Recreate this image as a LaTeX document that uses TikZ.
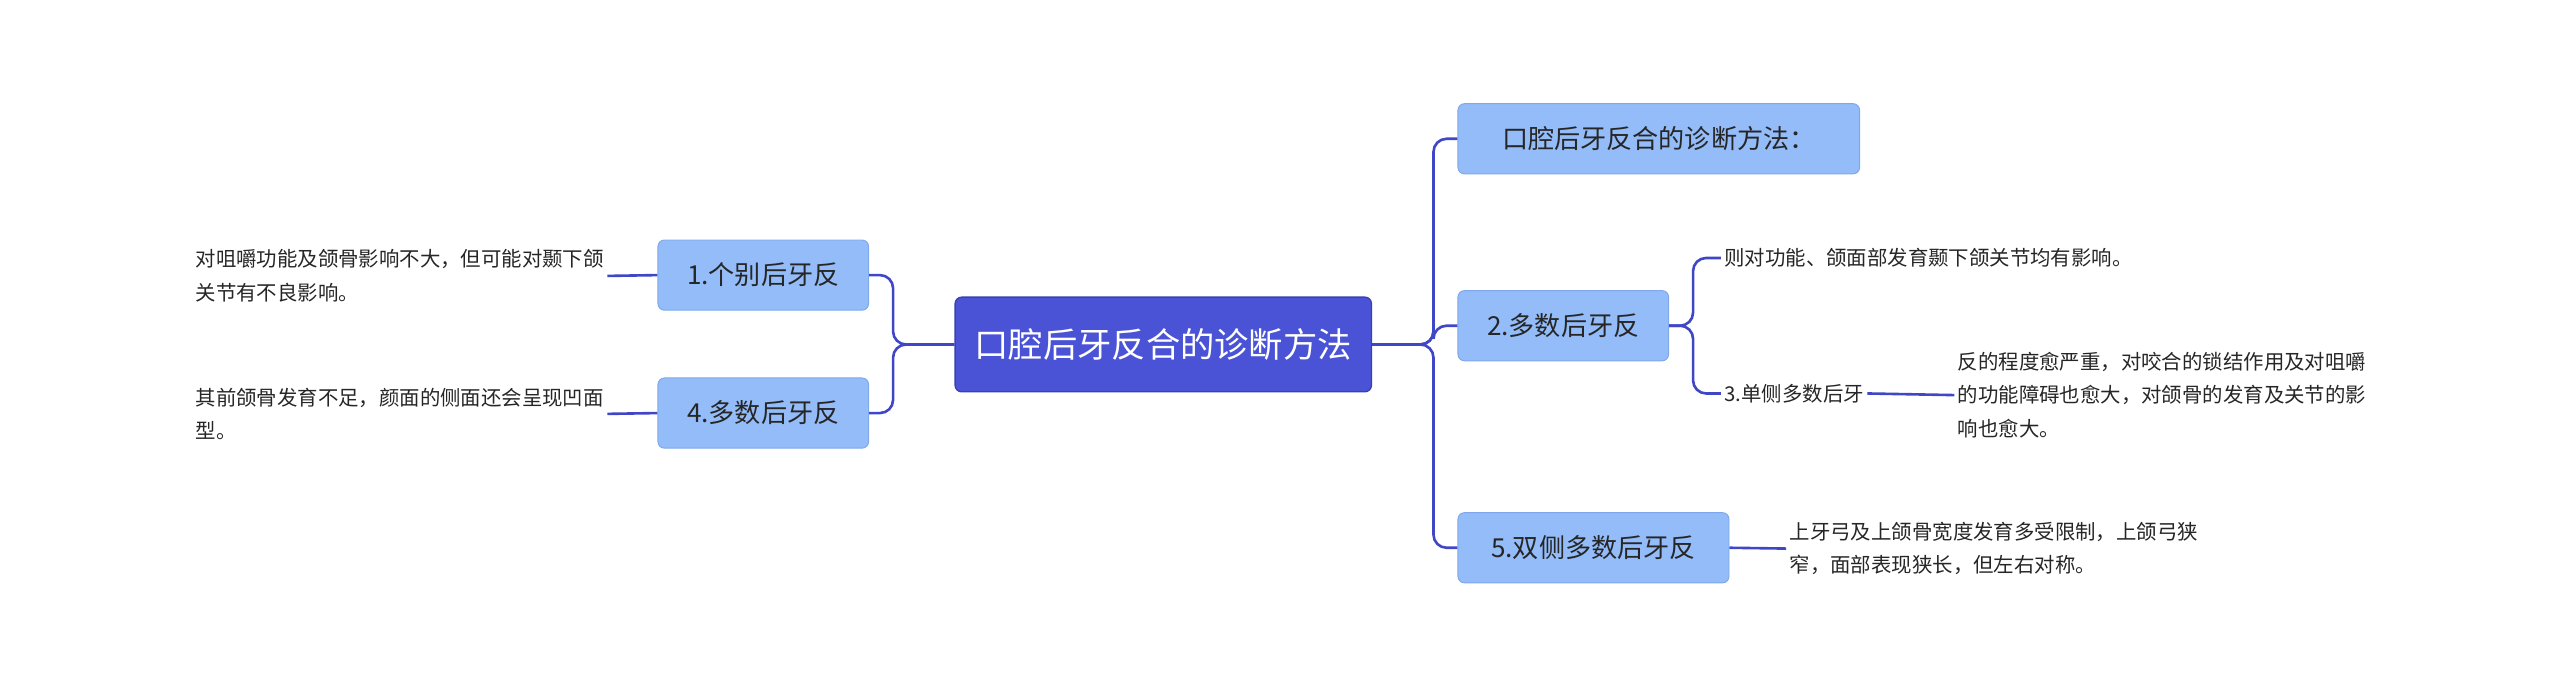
\documentclass[tikz,border=0pt]{standalone}
\usepackage{fontspec}
\setmainfont{Noto Sans CJK SC}
\begin{document}
\begin{tikzpicture}[x=1pt,y=-1pt,
  line/.style={draw=linec,line width=1.6pt,rounded corners=8pt},
  rootbox/.style={fill=rootc,draw=rootd,line width=0.8pt,rounded corners=4pt,text=white,font=\fontsize{21}{25}\selectfont,minimum height=58pt,inner xsep=12pt},
  branch/.style={fill=brc,draw=brd,line width=0.6pt,rounded corners=4pt,text=black!85,font=\fontsize{16}{19}\selectfont,minimum height=43pt,inner xsep=9pt},
  leaf/.style={text=black!85,font=\fontsize{12.5}{20.5}\selectfont,align=left,inner sep=2pt}]
\definecolor{linec}{HTML}{4047C6}
\definecolor{rootc}{HTML}{4A53D6}
\definecolor{rootd}{HTML}{3A40B0}
\definecolor{brc}{HTML}{93BCF9}
\definecolor{brd}{HTML}{7FA8EC}
\useasboundingbox (0,0) rectangle (1568,425);
\node[rootbox] (root) at (712.5,211) {口腔后牙反合的诊断方法};
\node[branch,minimum width=129pt] (b1) at (467.5,168.5) {1.个别后牙反};
\node[branch,minimum width=129pt] (b4) at (467.5,253) {4.多数后牙反};
\node[branch,minimum width=246pt] (r0) at (1016,85) {口腔后牙反合的诊断方法：};
\node[branch,minimum width=129pt] (b2) at (957.5,199.5) {2.多数后牙反};
\node[branch,minimum width=166pt] (b5) at (976,335.5) {5.双侧多数后牙反};
\node[leaf,anchor=east] (l1) at (372,169) {对咀嚼功能及颌骨影响不大，但可能对颞下颌\\关节有不良影响。};
\node[leaf,anchor=east] (l4) at (372,253.5) {其前颌骨发育不足，颜面的侧面还会呈现凹面\\型。};
\node[leaf,anchor=west] (c1) at (1054,158) {则对功能、颌面部发育颞下颌关节均有影响。};
\node[leaf,anchor=west] (c3) at (1054,241) {3.单侧多数后牙};
\node[leaf,anchor=west] (l3) at (1197,242) {反的程度愈严重，对咬合的锁结作用及对咀嚼\\的功能障碍也愈大，对颌骨的发育及关节的影\\响也愈大。};
\node[leaf,anchor=west] (l5) at (1094,336) {上牙弓及上颌骨宽度发育多受限制，上颌弓狭\\窄，面部表现狭长，但左右对称。};
% connectors
\draw[line] (root.east) -- (878,211) |- (r0.west);
\draw[line] (root.east) -- (878,211) |- (b2.west);
\draw[line] (root.east) -- (878,211) |- (b5.west);
\draw[line] (root.west) -- (547,211) |- (b1.east);
\draw[line] (root.west) -- (547,211) |- (b4.east);
\draw[line] (b1.west) -- (l1.east);
\draw[line] (b4.west) -- (l4.east);
\draw[line] (b2.east) -- (1037,199.5) |- (c1.west);
\draw[line] (b2.east) -- (1037,199.5) |- (c3.west);
\draw[line] (c3.east) -- (l3.west);
\draw[line] (b5.east) -- (l5.west);
\end{tikzpicture}
\end{document}
